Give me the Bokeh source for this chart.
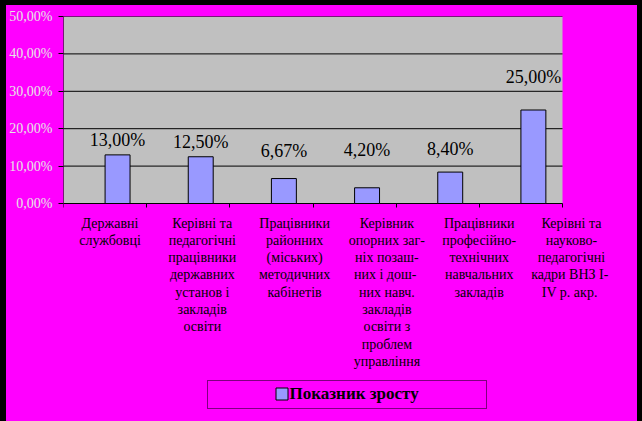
from bokeh.plotting import figure
from bokeh.models import (ColumnDataSource, Range1d, FixedTicker, LabelSet,
                          Legend, LegendItem, GlobalInlineStyleSheet)
from bokeh.core.properties import value
from bokeh.embed import file_html
from bokeh.resources import INLINE

# ---------------- data ----------------
categories = [
    "Державні\nслужбовці",
    "Керівні та\nпедагогічні\nпрацівники\nдержавних\nустанов і\nзакладів\nосвіти",
    "Працівники\nрайонних\n(міських)\nметодичних\nкабінетів",
    "Керівник\nопорних заг-\nніх позаш-\nних  і дош-\nних навч.\nзакладів\nосвіти з\nпроблем\nуправління",
    "Працівники\nпрофесійно-\nтехнічних\nнавчальних\nзакладів",
    "Керівні та\nнауково-\nпедагогічні\nкадри  ВНЗ І-\nІV р.  акр.",
]
growth = [13.00, 12.50, 6.67, 4.20, 8.40, 25.00]
y_ticks = [0, 10, 20, 30, 40, 50]
y_tick_labels = ["0,00%", "10,00%", "20,00%", "30,00%", "40,00%", "50,00%"]
series_name = "Показник зросту"

# ---------------- layout constants (pixels) ----------------
W, H = 631, 412
FRAME_L, FRAME_R, FRAME_T, FRAME_B = 57, 7, 11, 3
plot_w_px, plot_h_px = 499, 187              # grey plot area size
frame_w = W - FRAME_L - FRAME_R
frame_h = H - FRAME_T - FRAME_B

n = len(categories)
ymax = y_ticks[-1]
px_x = plot_w_px / n
px_y = plot_h_px / ymax
x_end = frame_w / px_x
y_start = ymax - frame_h / px_y

label_lift_px = [15, 15, 28, 38, 23, 33]   # data label lift above bar top (px)
value_texts = [f"{v:.2f}".replace(".", ",") + "%" for v in growth]
idx = list(range(n))
bar_x = [i + 0.5 + 0.15 for i in idx]      # bar sits right of category centre

src = ColumnDataSource(dict(x=bar_x, top=growth, text=value_texts, dy=label_lift_px))

# one row per category-label line, so each line can be centred
LINE_PX = 17.3
cat_src = dict(ci=[], dy=[], text=[])
for i, c in enumerate(categories):
    for k, t in enumerate(c.split("\n")):
        cat_src["ci"].append(i)
        cat_src["dy"].append(-k * LINE_PX)
        cat_src["text"].append(t)
cat_src = ColumnDataSource(cat_src)

p = figure(width=W, height=H, output_backend="svg", toolbar_location=None,
           tools="", x_range=Range1d(0, x_end), y_range=Range1d(y_start, ymax),
           min_border_left=FRAME_L, min_border_right=FRAME_R,
           min_border_top=FRAME_T, min_border_bottom=FRAME_B)

p.stylesheets = [GlobalInlineStyleSheet(
    css="html { background-color: #000000; margin: 0; padding: 0; } "
        "body { background-color: #FF00FF; margin: 5px 5px 4px 6px; padding: 0; }")]

p.background_fill_color = "#FF00FF"
p.border_fill_color = "#FF00FF"
p.outline_line_color = None
p.xgrid.visible = False
p.ygrid.visible = False

# grey plot area, its left edge and horizontal gridlines (y=0 line is the x axis line)
p.quad(left=0, right=n, bottom=0, top=ymax, fill_color="#C0C0C0",
       line_color=None, level="underlay")
p.segment(x0=[0] * len(y_ticks), x1=[n] * len(y_ticks), y0=y_ticks, y1=y_ticks,
          line_color="black", line_width=1, level="underlay")
p.segment(x0=[0], x1=[0], y0=[0], y1=[ymax], line_color="black", line_width=1,
          level="underlay")

# y axis (ticks and labels only)
ya = p.yaxis[0]
ya.ticker = FixedTicker(ticks=y_ticks)
ya.major_label_overrides = {t: l for t, l in zip(y_ticks, y_tick_labels)}
ya.axis_line_color = None
ya.major_tick_line_color = "black"
ya.major_tick_out = 5
ya.major_tick_in = 0
ya.minor_tick_line_color = None
ya.major_label_standoff = 6
ya.major_label_text_font = "Liberation Serif"
ya.major_label_text_font_size = "14px"
ya.major_label_text_color = "#e6e6e6"

# x axis at y=0 (category boundary ticks only)
xa = p.xaxis[0]
xa.fixed_location = 0
xa.ticker = FixedTicker(ticks=list(range(n + 1)))
xa.major_label_overrides = {i: "" for i in range(n + 1)}
xa.axis_line_color = None
xa.major_tick_line_color = "black"
xa.major_tick_out = 4
xa.major_tick_in = 0
xa.minor_tick_line_color = None
xa.major_label_text_font_size = "1px"
xa.major_label_standoff = 0

# bars
bars = p.vbar(x="x", top="top", width=0.3, source=src,
              fill_color="#9999FF", line_color="black", line_width=1)

# data labels
p.add_layout(LabelSet(x="x", y="top", text="text", y_offset="dy", source=src,
                      text_align="center", text_baseline="middle",
                      text_font=value("Liberation Serif"), text_font_size="18px",
                      text_color="black"))

# category labels (spread a little wider than the bars, as in the original)
lab_px = 92.3
lab_start = -46.5 / lab_px
p.extra_x_ranges = {"catlab": Range1d(lab_start, lab_start + frame_w / lab_px)}
p.add_layout(LabelSet(x="ci", y=-12 / px_y, y_offset="dy", x_range_name="catlab",
                      text="text", source=cat_src,
                      text_align="center", text_baseline="top",
                      text_font=value("Liberation Serif"), text_font_size="14px",
                      text_color="black"))

# legend: frame box + content
dummy = p.scatter(x=[], y=[], alpha=0)
leg_box = Legend(items=[LegendItem(label=" ", renderers=[dummy])],
                 location=(144, 5), padding=0, spacing=0,
                 glyph_width=1, glyph_height=27, label_width=277, label_height=27,
                 label_standoff=0, border_line_color="black", border_line_width=1,
                 background_fill_alpha=0)
leg = Legend(items=[LegendItem(label=series_name, renderers=[bars])],
             location=(210.5, 10.5), padding=0, spacing=0,
             glyph_width=15, glyph_height=15, label_height=15, label_standoff=1,
             label_text_font="Liberation Serif", label_text_font_size="17px",
             label_text_font_style="bold", label_text_color="black",
             border_line_color=None, background_fill_alpha=0)
p.add_layout(leg_box, "center")
p.add_layout(leg, "center")

open("out.html", "w").write(file_html(p, INLINE))
